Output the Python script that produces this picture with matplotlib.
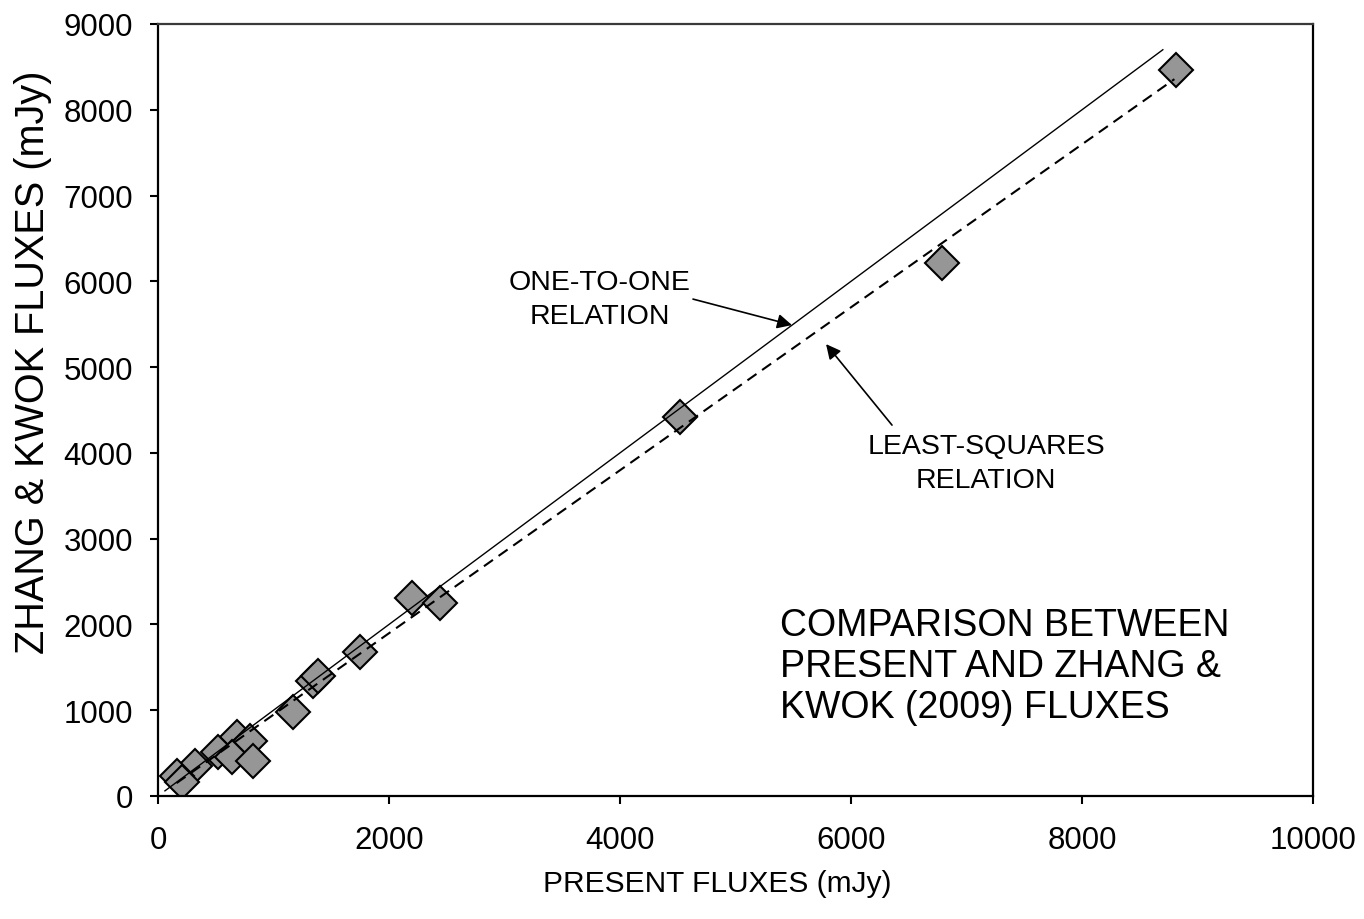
import matplotlib
matplotlib.use("Agg")
import matplotlib.pyplot as plt

plt.rcParams['font.family'] = ['Liberation Sans', 'DejaVu Sans']

# Data points (present flux, Zhang & Kwok flux), mJy
present_flux = [8814, 6788, 4519, 2199, 2442, 1749, 1345, 1388, 1172,
                681, 797, 522, 638, 825, 320, 162, 205]
zk_flux = [8462, 6212, 4417, 2308, 2250, 1675, 1344, 1402, 975,
           684, 645, 509, 449, 411, 353, 237, 160]

# Relation lines
one_to_one_x = [60, 8700]
one_to_one_y = [60, 8700]
lsq_x = [160, 8800]
lsq_y = [150, 8357]

xticks = [0, 2000, 4000, 6000, 8000, 10000]
yticks = [0, 1000, 2000, 3000, 4000, 5000, 6000, 7000, 8000, 9000]

W, H = 1364, 920
fig = plt.figure(figsize=(W / 100, H / 100), dpi=100)
ax = fig.add_axes([158 / W, 1 - 797 / H, (1313 - 158) / W, (797 - 25) / H])

ax.plot(present_flux, zk_flux, linestyle='none', marker='D', markersize=17,
        markerfacecolor='#969696', markeredgecolor='black', markeredgewidth=1.5,
        zorder=2)
ax.plot(one_to_one_x, one_to_one_y, color='black', lw=1.0, zorder=3)
ax.plot(lsq_x, lsq_y, color='black', lw=1.5, linestyle=(0, (5.3, 3.3)), zorder=3)

ax.set_xlim(0, 10000)
ax.set_ylim(0, 9000)
ax.set_xticks(xticks)
ax.set_yticks(yticks)
ax.set_xticklabels([str(v) for v in xticks])
ax.set_yticklabels([str(v) for v in yticks])
ax.tick_params(axis='both', direction='out', length=6, width=1.5,
               labelsize=22.5, colors='black')
ax.tick_params(axis='x', pad=15)
ax.tick_params(axis='y', pad=12)

for side in ['left', 'bottom', 'right']:
    ax.spines[side].set_linewidth(1.6)
    ax.spines[side].set_color('black')
ax.spines['top'].set_linewidth(1.6)
ax.spines['top'].set_color('#3a3a3a')

ax.set_xlabel('PRESENT FLUXES (mJy)', fontsize=21.5, labelpad=14)
ax.set_ylabel('ZHANG & KWOK FLUXES (mJy)', fontsize=28.5)
ax.yaxis.set_label_coords(-0.0918, 0.5635)
ax.xaxis.set_label_coords(0.4845, -0.095)

# Labels and arrows
ax.text(3827, 5793, 'ONE-TO-ONE\nRELATION', ha='center', va='center',
        fontsize=20.5, linespacing=1.42, zorder=4)
ax.annotate('', xy=(5489, 5490), xytext=(4632, 5793),
            arrowprops=dict(arrowstyle='-|>', color='black', lw=1.2,
                            mutation_scale=22, shrinkA=0, shrinkB=0),
            zorder=4)

ax.text(7169, 3881, 'LEAST-SQUARES\nRELATION', ha='center', va='center',
        fontsize=20.5, linespacing=1.42, zorder=4)
ax.annotate('', xy=(5784, 5268), xytext=(6355, 4324),
            arrowprops=dict(arrowstyle='-|>', color='black', lw=1.2,
                            mutation_scale=22, shrinkA=0, shrinkB=0),
            zorder=4)

ax.text(780 / W, 1 - 608 / H, 'COMPARISON BETWEEN\nPRESENT AND ZHANG &\nKWOK (2009) FLUXES',
        transform=fig.transFigure, ha='left', va='top', fontsize=27,
        linespacing=1.17)

fig.savefig('out.png', dpi=100)
